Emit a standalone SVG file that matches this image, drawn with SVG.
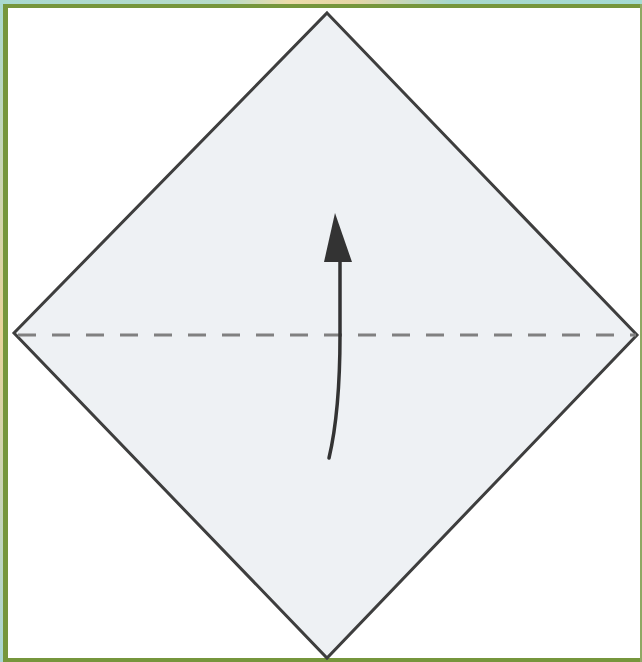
<svg xmlns="http://www.w3.org/2000/svg" width="642" height="662" viewBox="0 0 642 662">
  <defs>
    <linearGradient id="topband" x1="0" y1="0" x2="1" y2="0">
      <stop offset="0" stop-color="#a9d9d0"/>
      <stop offset="0.35" stop-color="#b7dcc9"/>
      <stop offset="0.45" stop-color="#ecdcaa"/>
      <stop offset="0.55" stop-color="#e6d6a6"/>
      <stop offset="0.7" stop-color="#a8d8cc"/>
      <stop offset="1" stop-color="#a5dbd2"/>
    </linearGradient>
    <linearGradient id="leftband" x1="0" y1="0" x2="0" y2="1">
      <stop offset="0" stop-color="#a9d9d0"/>
      <stop offset="0.5" stop-color="#e8d39a"/>
      <stop offset="1" stop-color="#a9d6d4"/>
    </linearGradient>
  </defs>
  <style>
    .paper { fill: #eef1f4; stroke: #3e3e3e; stroke-width: 3; stroke-linejoin: miter; }
    .fold { stroke: #808080; stroke-width: 3; stroke-dasharray: 18 16; fill: none; }
    .arrow { stroke: #333; stroke-width: 3.5; fill: none; stroke-linecap: round; }
  </style>
  <rect x="0" y="0" width="642" height="662" fill="#ffffff"/>
  <rect x="0" y="0" width="642" height="5" fill="url(#topband)"/>
  <rect x="0" y="0" width="3" height="662" fill="url(#leftband)"/>
  <g id="frame">
    <rect x="3" y="4" width="5" height="658" fill="#76963c"/>
    <rect x="3" y="4" width="639" height="4" fill="#76963c"/>
    <rect x="3" y="658" width="639" height="4" fill="#76963c"/>
    <rect x="640" y="4" width="2" height="658" fill="#8ea864"/>
  </g>
  <g id="paper">
    <polygon class="paper" points="327,13 637,335 327,658 14,333"/>
  </g>
  <g id="connectors">
    <line class="fold" x1="18" y1="335" x2="636" y2="335"/>
    <path class="arrow" d="M329,458 C338,420 340,380 340,335 L340,262"/>
    <polygon points="335,213 324,262 352,262" fill="#333"/>
  </g>
</svg>
